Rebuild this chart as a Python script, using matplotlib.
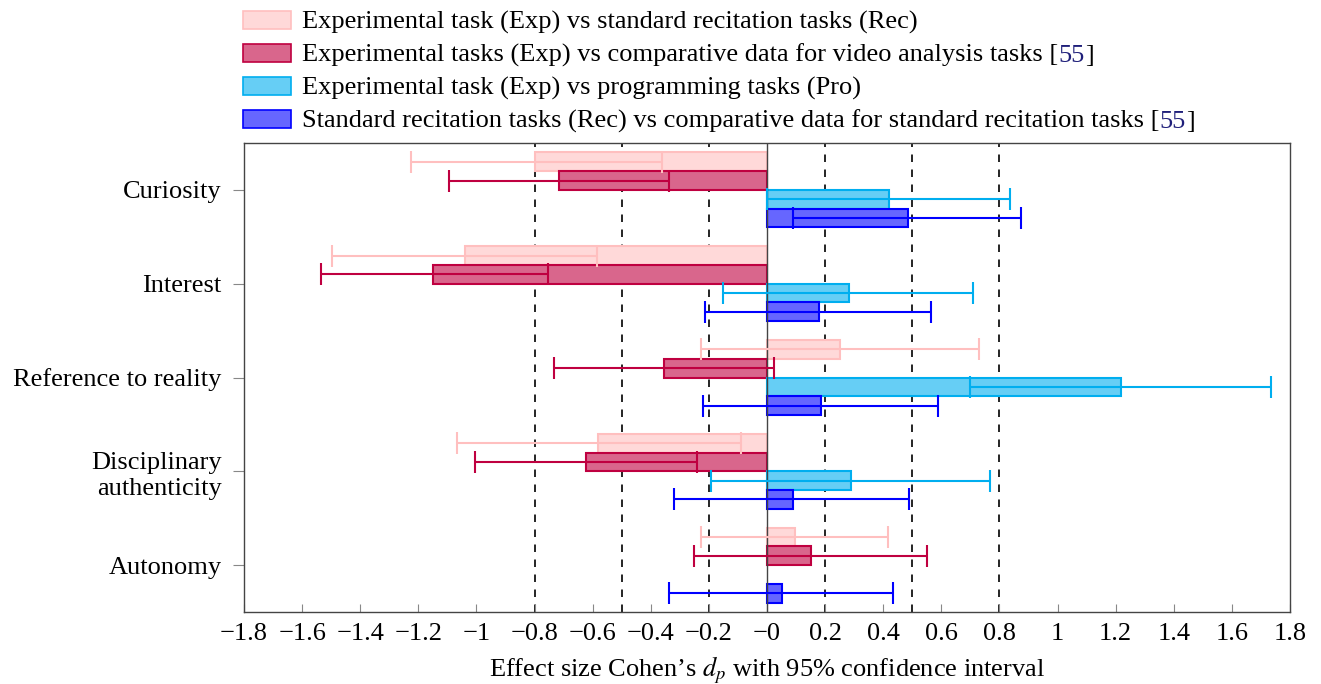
import matplotlib.pyplot as plt
import matplotlib.colors as mcolors
import numpy as np
from matplotlib.patches import Patch
from matplotlib.text import Annotation

plt.rcParams['font.family'] = ['Liberation Serif', 'DejaVu Serif']
plt.rcParams['mathtext.fontset'] = 'stix'
plt.rcParams['font.size'] = 19

categories = ['Curiosity', 'Interest', 'Reference to reality',
              'Disciplinary\nauthenticity', 'Autonomy']

labels = [
    'Experimental task (Exp) vs standard recitation tasks (Rec)',
    'Experimental tasks (Exp) vs comparative data for video analysis tasks [',
    'Experimental task (Exp) vs programming tasks (Pro)',
    'Standard recitation tasks (Rec) vs comparative data for standard recitation tasks [',
]

# effect sizes and 95% CI bounds
exp_rec = [-0.80, -1.04, 0.25, -0.58, 0.095]
exp_rec_lo = [-1.226, -1.496, -0.228, -1.067, -0.228]
exp_rec_hi = [-0.363, -0.584, 0.728, -0.09, 0.416]

exp_video = [-0.717, -1.148, -0.356, -0.623, 0.153]
exp_video_lo = [-1.094, -1.536, -0.732, -1.004, -0.251]
exp_video_hi = [-0.338, -0.753, 0.023, -0.241, 0.55]

exp_pro = [0.419, 0.281, 1.219, 0.289, np.nan]
exp_pro_lo = [0.0, -0.153, 0.70, -0.193, np.nan]
exp_pro_hi = [0.835, 0.709, 1.735, 0.766, np.nan]

rec_rec = [0.484, 0.178, 0.187, 0.088, 0.052]
rec_rec_lo = [0.089, -0.215, -0.22, -0.32, -0.336]
rec_rec_hi = [0.874, 0.565, 0.587, 0.488, 0.435]

thresholds = [-0.8, -0.5, -0.2, 0.2, 0.5, 0.8]
xticks = np.round(np.arange(-1.8, 1.81, 0.2), 1)

edge_colors = ['#ffbfbf', '#bf0040', '#00aeef', '#0000ff']


def tint(c, f=0.6):
    rgb = np.array(mcolors.to_rgb(c))
    return tuple(1 - f * (1 - rgb))


series = [
    (exp_rec, exp_rec_lo, exp_rec_hi),
    (exp_video, exp_video_lo, exp_video_hi),
    (exp_pro, exp_pro_lo, exp_pro_hi),
    (rec_rec, rec_rec_lo, rec_rec_hi),
]
offsets = [-0.3, -0.1, 0.1, 0.3]
bar_h = 0.2

fig = plt.figure(figsize=(13.21, 6.84), dpi=100)
ax = fig.add_axes([244 / 1321, 1 - 612 / 684, (1290 - 244) / 1321, (612 - 143) / 684])

for t in thresholds:
    ax.axvline(t, color='black', lw=1.2, ls=(0, (4.5, 4.5)), zorder=1)
ax.axvline(0, color='#444444', lw=1.0, zorder=3.5)

y = np.arange(len(categories))
handles = []
for (vals, lo, hi), off, col in zip(series, offsets, edge_colors):
    vals = np.array(vals, dtype=float)
    lo = np.array(lo, dtype=float)
    hi = np.array(hi, dtype=float)
    ok = ~np.isnan(vals)
    ax.barh(y[ok] + off, vals[ok], height=bar_h, color=tint(col),
            edgecolor=col, linewidth=1.5, zorder=3)
    ax.errorbar(vals[ok], y[ok] + off, xerr=[vals[ok] - lo[ok], hi[ok] - vals[ok]],
                fmt='none', ecolor=col, elinewidth=1.5, capsize=8,
                capthick=1.5, zorder=4)
    handles.append(Patch(facecolor=tint(col), edgecolor=col, linewidth=1.2))

ax.set_xlim(-1.8, 1.8)
ax.set_ylim(4.5, -0.5)
ax.set_xticks(xticks)
ax.set_xticklabels([f'{v:g}'.replace('-', '\u2212') for v in xticks])
ax.set_yticks(y)
ax.set_yticklabels(categories)
for lab in ax.get_yticklabels():
    lab.set_linespacing(1.25)
ax.tick_params(axis='x', direction='in', length=6, color='#888888', pad=8)
ax.tick_params(axis='y', direction='out', length=8, color='#888888', pad=8)
for s in ax.spines.values():
    s.set_color('#444444')
    s.set_linewidth(1.0)

ax.set_xlabel("Effect size Cohen\u2019s $d_p$ with 95% confidence interval", labelpad=7)

leg = fig.legend(handles=handles, labels=labels, loc='upper left',
                 bbox_to_anchor=(243 / 1321, 1 - 11 / 684), frameon=False,
                 borderaxespad=0, borderpad=0, handlelength=1.8,
                 handleheight=0.65, handletextpad=0.45, labelspacing=0.36)

# coloured citation number after the legend labels that need it
for i in (1, 3):
    txt = leg.get_texts()[i]
    a1 = Annotation('55', xy=(1, 0), xycoords=txt, ha='left', va='bottom',
                    color='#1f1f7a', annotation_clip=False)
    a1.set_zorder(10)
    fig.add_artist(a1)
    a2 = Annotation(']', xy=(1, 0), xycoords=a1, ha='left', va='bottom',
                    color='black', annotation_clip=False)
    a2.set_zorder(11)
    fig.add_artist(a2)

fig.savefig('out.png', dpi=100)
